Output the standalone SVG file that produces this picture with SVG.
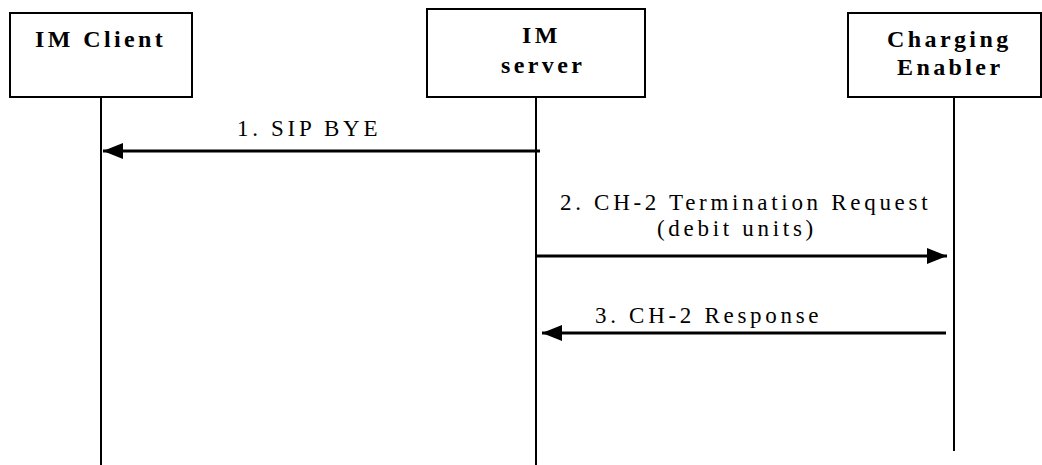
<svg xmlns="http://www.w3.org/2000/svg" width="1042" height="465" viewBox="0 0 1042 465">
<style>
.box{fill:#fff;stroke:#000;stroke-width:2}
.life{stroke:#000;stroke-width:2}
.msg{stroke:#000;stroke-width:3;fill:none}
.title{font-family:"Liberation Serif","Times New Roman",serif;font-weight:bold;font-size:24px;letter-spacing:3.4px;fill:#000}
.lbl{font-family:"Liberation Serif","Times New Roman",serif;font-size:23px;letter-spacing:3.7px;fill:#000}
</style>
<defs>
<marker id="ah" markerWidth="20" markerHeight="16" refX="20" refY="8" orient="auto" markerUnits="userSpaceOnUse">
<path d="M0,0 L20,8 L0,16 Z" fill="#000"/>
</marker>
</defs>
<rect width="1042" height="465" fill="#fff"/>
<g id="lifelines">
<line class="life" x1="101" y1="97" x2="101" y2="465"/>
<line class="life" x1="536" y1="97" x2="536" y2="465"/>
<line class="life" x1="954" y1="97" x2="954" y2="451"/>
</g>
<g id="node-im-client">
<rect class="box" x="10" y="13" width="182" height="84"/>
<text class="title" x="35" y="47">IM Client</text>
</g>
<g id="node-im-server">
<rect class="box" x="427" y="9" width="218" height="88"/>
<text class="title"><tspan x="522" y="43">IM</tspan><tspan x="501" y="73">server</tspan></text>
</g>
<g id="node-charging-enabler">
<rect class="box" x="848" y="13" width="193" height="84"/>
<text class="title"><tspan x="887" y="47">Charging</tspan><tspan x="897" y="75">Enabler</tspan></text>
</g>
<g id="connectors">
<line class="msg" x1="540" y1="151" x2="103" y2="151" marker-end="url(#ah)"/>
<text class="lbl" x="237" y="136">1. SIP BYE</text>
<line class="msg" x1="536" y1="256" x2="947" y2="256" marker-end="url(#ah)"/>
<text class="lbl" x="560" y="210">2. CH-2 Termination Request</text>
<text class="lbl" x="657" y="236">(debit units)</text>
<line class="msg" x1="946" y1="333" x2="542" y2="333" marker-end="url(#ah)"/>
<text class="lbl" x="595" y="323">3. CH-2 Response</text>
</g>
</svg>
